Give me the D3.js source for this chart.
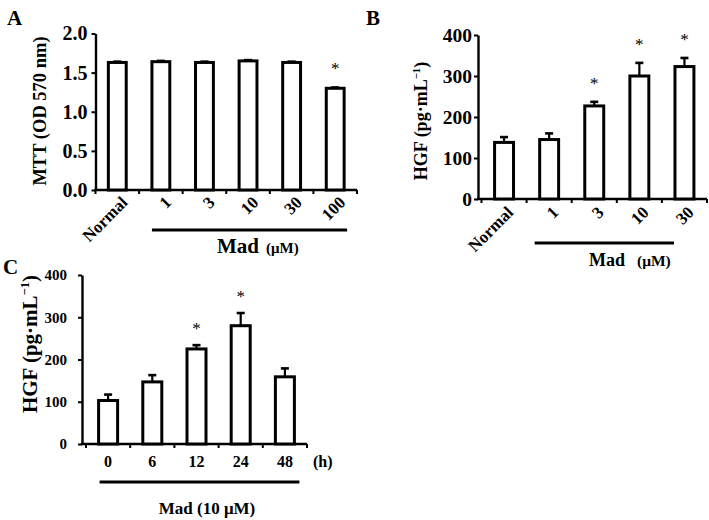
<!DOCTYPE html>
<html><head><meta charset="utf-8">
<script src="https://cdn.jsdelivr.net/npm/d3@7"></script>
<style>
body{margin:0;background:#fff}
svg text{font-family:"Liberation Serif","Times New Roman",serif;font-weight:bold;fill:#000}
</style>
</head><body>
<svg id="chart" width="709" height="520"></svg>
<script>
// Panel A: MTT
const catsA = ["Normal", "1", "3", "10", "30", "100"];
const valsA = [1.63, 1.64, 1.63, 1.65, 1.63, 1.30];
const errA  = [0.01, 0.01, 0.01, 0.01, 0.01, 0.01];
const sigA  = [false, false, false, false, false, true];
const ticksA = [0, 0.5, 1.0, 1.5, 2.0];

// Panel B: HGF vs dose
const catsB = ["Normal", "1", "3", "10", "30"];
const valsB = [138, 145, 227, 300, 323];
const errB  = [13, 15, 10, 32, 21];
const sigB  = [false, false, true, true, true];
const ticksB = [0, 100, 200, 300, 400];

// Panel C: HGF vs time
const catsC = ["0", "6", "12", "24", "48"];
const valsC = [103, 147, 225, 280, 159];
const errC  = [14, 16, 9, 30, 20];
const sigC  = [false, false, true, true, false];
const ticksC = [0, 100, 200, 300, 400];

const svg = d3.select("#chart");
const FONT = '"Liberation Serif","Times New Roman",serif';

function panel(o) {
  const g = svg.append("g");
  const x = d3.scaleBand().domain(o.cats).range(o.xr).paddingInner(o.pad).paddingOuter(o.pad / 2);
  const y = d3.scaleLinear().domain([0, o.ymax]).range(o.yr);
  const y0 = y(0);

  // y axis
  const ya = g.append("g").attr("transform", `translate(${o.ax},0)`)
    .call(d3.axisLeft(y).tickValues(o.ticks).tickFormat(o.fmt).tickSize(4).tickSizeOuter(0).tickPadding(o.tp));
  ya.select(".domain").attr("stroke", "#000").attr("stroke-width", 2.4);
  ya.selectAll(".tick line").attr("stroke", "#000").attr("stroke-width", 2);
  ya.selectAll(".tick text").attr("font-size", o.tfs).style("font-family", FONT).style("font-weight", "bold");

  // x axis line and boundary ticks
  g.append("line").attr("x1", o.ax - 1.2).attr("x2", o.xr[1]).attr("y1", y0).attr("y2", y0)
    .attr("stroke", "#000").attr("stroke-width", 2.4);
  const bounds = o.cats.map(c => x(c) - x.step() * o.pad / 2).concat([o.xr[1]]);
  g.selectAll(".bt").data(bounds).join("line")
    .attr("x1", d => d).attr("x2", d => d).attr("y1", y0).attr("y2", y0 + 4)
    .attr("stroke", "#000").attr("stroke-width", 2);

  const data = o.cats.map((c, i) => ({c, v: o.vals[i], e: o.errs[i], s: o.sig[i]}));

  // error bars (upper only)
  g.selectAll(".eb").data(data).join("line")
    .attr("x1", d => x(d.c) + x.bandwidth() / 2).attr("x2", d => x(d.c) + x.bandwidth() / 2)
    .attr("y1", d => y(d.v)).attr("y2", d => y(d.v + d.e))
    .attr("stroke", "#000").attr("stroke-width", 2.2);
  g.selectAll(".ec").data(data).join("line")
    .attr("x1", d => x(d.c) + x.bandwidth() / 2 - 4).attr("x2", d => x(d.c) + x.bandwidth() / 2 + 4)
    .attr("y1", d => y(d.v + d.e)).attr("y2", d => y(d.v + d.e))
    .attr("stroke", "#000").attr("stroke-width", 2.6);

  // bars
  g.selectAll(".bar").data(data).join("rect")
    .attr("x", d => x(d.c)).attr("width", x.bandwidth())
    .attr("y", d => y(d.v)).attr("height", d => y0 - y(d.v))
    .attr("fill", "#fff").attr("stroke", "#000").attr("stroke-width", 3);

  // significance stars
  g.selectAll(".st").data(data.filter(d => d.s)).join("text")
    .attr("x", d => x(d.c) + x.bandwidth() / 2).attr("y", d => y(d.v + d.e) - o.sOff)
    .attr("text-anchor", "middle").attr("font-size", 17).style("font-weight", "normal").text("*");

  // category labels
  if (o.rot) {
    g.selectAll(".cl").data(o.cats).join("text")
      .attr("transform", c => `translate(${x(c) + x.bandwidth() / 2 + o.ldx},${y0 + o.ldy}) rotate(-45)`)
      .attr("text-anchor", "end").attr("dy", "0.7em").attr("font-size", o.lfs).text(c => c);
  } else {
    g.selectAll(".cl").data(o.cats).join("text")
      .attr("x", c => x(c) + x.bandwidth() / 2).attr("y", y0 + o.ldy)
      .attr("text-anchor", "middle").attr("font-size", o.lfs).text(c => c);
  }

  // y label
  const yl = g.append("text")
    .attr("transform", `translate(${o.ylx},${o.yly}) rotate(-90)`)
    .attr("text-anchor", "middle").attr("font-size", o.ylfs);
  yl.append("tspan").text(o.ylab[0]);
  if (o.ylab.length > 1) {
    yl.append("tspan").attr("font-size", o.ylfs * 0.6).attr("dy", -o.ylfs * 0.4).text(o.ylab[1]);
    yl.append("tspan").attr("dy", o.ylfs * 0.4).text(o.ylab[2]);
  }

  // panel letter
  g.append("text").attr("x", o.px).attr("y", o.py).attr("font-size", 21).text(o.letter);
  return {g, x, y};
}

// ---- A ----
const A = panel({cats: catsA, vals: valsA, errs: errA, sig: sigA, ymax: 2.0, ticks: ticksA,
  fmt: d3.format(".1f"), xr: [95.5, 357], yr: [190, 33.5], ax: 95.5, pad: 0.59, tp: 4, tfs: 20,
  sOff: 13, rot: true, ldx: 3, ldy: 5, lfs: 17, ylx: 46, yly: 111, ylfs: 18.5,
  ylab: ["MTT (OD 570 nm)"], letter: "A", px: 7, py: 25});
A.g.append("line").attr("x1", A.x("1")).attr("x2", A.x("100") + A.x.bandwidth() + 3)
  .attr("y1", 230).attr("y2", 230).attr("stroke", "#000").attr("stroke-width", 3.2);
A.g.append("text").attr("x", 217).attr("y", 253).attr("font-size", 21).text("Mad");
A.g.append("text").attr("x", 266).attr("y", 253).attr("font-size", 15).text("(μM)");

// ---- B ----
const B = panel({cats: catsB, vals: valsB, errs: errB, sig: sigB, ymax: 400, ticks: ticksB,
  fmt: d3.format("d"), xr: [481.5, 707], yr: [199, 35], ax: 478, pad: 0.58, tp: 2, tfs: 19.5,
  sOff: 13, rot: true, ldx: 2, ldy: 6, lfs: 17, ylx: 427, yly: 121, ylfs: 18,
  ylab: ["HGF (pg·mL", "−1", ")"], letter: "B", px: 366, py: 25});
B.g.append("line").attr("x1", B.x("1") - 5).attr("x2", B.x("30") - 1)
  .attr("y1", 243).attr("y2", 243).attr("stroke", "#000").attr("stroke-width", 3.2);
B.g.append("text").attr("x", 589).attr("y", 266).attr("font-size", 18).text("Mad");
B.g.append("text").attr("x", 637).attr("y", 266).attr("font-size", 15.5).text("(μM)");

// ---- C ----
const C = panel({cats: catsC, vals: valsC, errs: errC, sig: sigC, ymax: 400, ticks: ticksC,
  fmt: d3.format("d"), xr: [86, 307], yr: [444, 275], ax: 82, pad: 0.57, tp: 11, tfs: 15,
  sOff: 11, rot: false, ldx: 0, ldy: 23, lfs: 16, ylx: 37, yly: 344, ylfs: 21,
  ylab: ["HGF (pg·mL", "−1", ")"], letter: "C", px: 3, py: 274});
C.g.append("text").attr("x", 313).attr("y", C.y(0) + 23).attr("font-size", 16).text("(h)");
C.g.append("line").attr("x1", C.x("0") + 1).attr("x2", C.x("48") + C.x.bandwidth() + 5)
  .attr("y1", 482).attr("y2", 482).attr("stroke", "#000").attr("stroke-width", 3.2);
C.g.append("text").attr("x", 207).attr("y", 514)
  .attr("text-anchor", "middle").attr("font-size", 17).text("Mad (10 μM)");
</script>
</body></html>
